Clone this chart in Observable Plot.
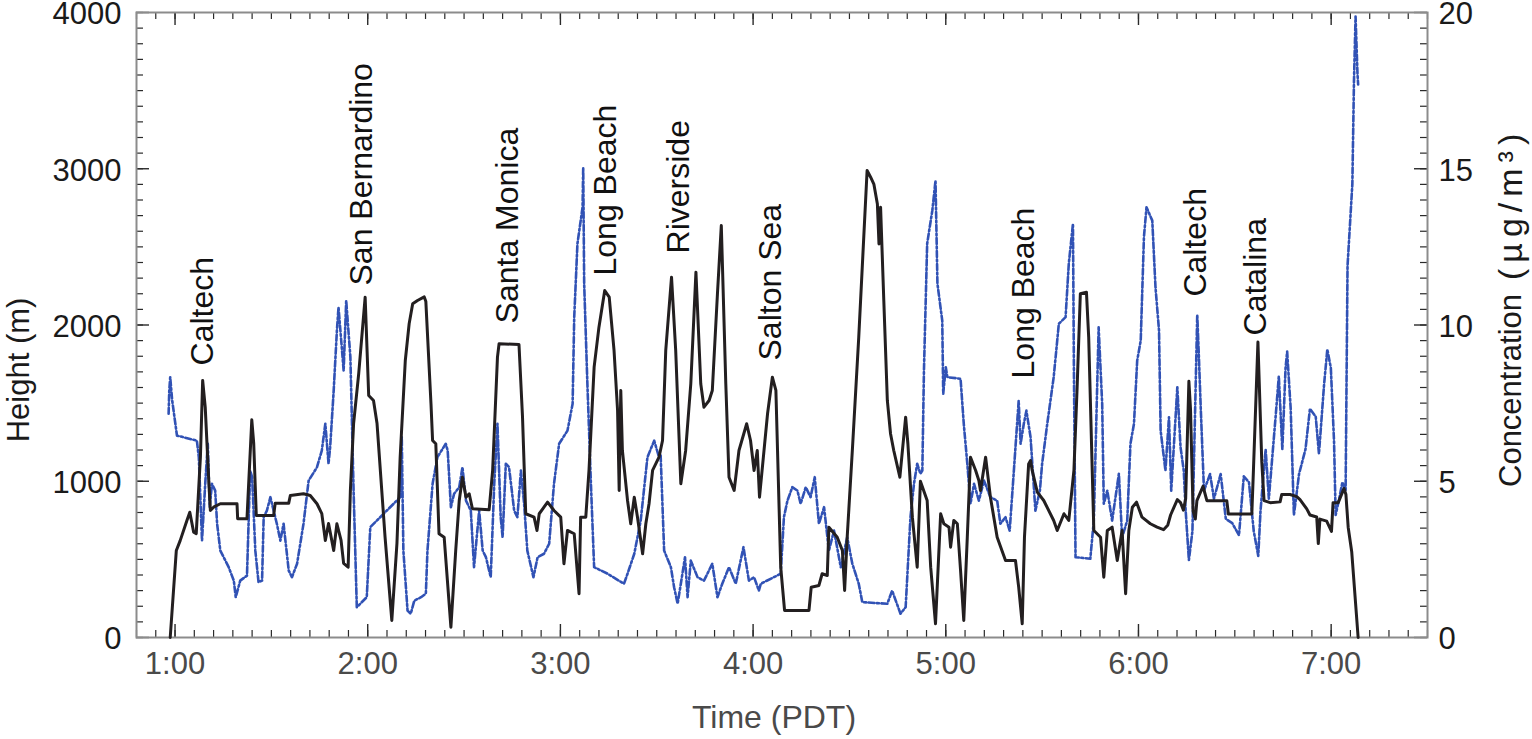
<!DOCTYPE html>
<html><head><meta charset="utf-8">
<script src="https://cdn.jsdelivr.net/npm/d3@7"></script>
<script src="https://cdn.jsdelivr.net/npm/@observablehq/plot@0.6"></script>
<style>html,body{margin:0;padding:0;background:#fff;} #chart svg{display:block}</style>
</head><body><div id="chart"></div>
<script>
// time in minutes after midnight (PDT), height in m
const heightSeries = [[58.5,0],[60.4,557],[61.6,620],[63.7,749],[64.6,802],[65.8,674],[66.6,665],[67.9,1154],[68.6,1645],[69.4,1474],[70.5,1005],[71.0,813],[72.0,834],[74.1,856],[79.3,856],[79.5,760],[82.4,760],[83.9,1393],[84.5,1242],[85.3,781],[90.7,781],[91.2,860],[95.4,860],[95.9,909],[100.0,920],[102.1,909],[104.2,856],[105.7,793],[106.8,621],[107.8,730],[109.4,557],[110.4,728],[111.7,621],[112.5,474],[113.9,450],[114.6,941],[115.6,1369],[117.2,1690],[119.2,2178],[120.3,1549],[121.8,1517],[122.9,1369],[125.4,642],[127.5,109],[129.1,602],[130.1,1154],[131.7,1773],[132.9,2008],[134.0,2136],[135.5,2157],[137.6,2180],[138.1,2150],[139.7,1496],[140.2,1261],[141.2,1240],[142.2,664],[143.8,642],[145.9,66],[147.4,557],[148.5,877],[149.5,1026],[150.6,898],[151.6,920],[152.6,824],[157.8,817],[158.9,1069],[160.4,1794],[160.9,1880],[167.1,1875],[168.2,1410],[169.2,792],[171.8,770],[172.7,685],[173.4,792],[176.0,866],[178.0,813],[180.1,770],[181.1,472],[182.2,685],[184.3,664],[185.8,280],[186.3,770],[187.9,770],[188.9,1069],[190.5,1730],[192.0,1986],[193.8,2221],[195.2,2178],[196.7,1837],[197.8,1453],[198.3,941],[198.8,1581],[199.3,1197],[200.9,877],[201.9,728],[203.0,898],[204.0,770],[205.6,536],[206.6,728],[207.6,856],[208.7,1069],[210.7,1154],[211.8,1261],[212.8,1837],[214.6,2306],[215.9,1837],[217.5,984],[219.0,1197],[220.6,1624],[222.2,2338],[223.7,1624],[224.7,1474],[226.3,1517],[227.3,1581],[228.9,2200],[230.1,2637],[231.5,1624],[232.5,1026],[234.1,941],[235.6,1197],[238.0,1368],[239.2,1261],[240.3,1069],[241.3,1197],[242.0,898],[243.4,1197],[244.5,1432],[246.0,1666],[247.1,1581],[248.6,450],[249.8,173],[257.4,173],[258.1,322],[260.5,333],[261.5,408],[263.1,397],[263.6,706],[266.2,642],[267.8,557],[268.5,301],[269.3,642],[270.9,1197],[272.9,1922],[275.5,2989],[276.6,2946],[277.6,2902],[278.7,2774],[279.2,2519],[279.7,2753],[280.7,2157],[281.8,1517],[282.8,1304],[283.8,1197],[285.7,1026],[287.5,1410],[288.2,1240],[289.6,770],[291.1,450],[292.1,1000],[294.2,877],[295.3,450],[296.8,88],[298.4,792],[299.4,728],[301.0,706],[301.5,578],[302.5,749],[303.6,728],[304.6,429],[305.6,109],[306.7,642],[307.7,1154],[309.3,1069],[310.3,1005],[310.8,941],[312.4,1154],[313.9,898],[316.0,642],[318.6,493],[321.7,493],[322.7,322],[323.8,88],[324.5,642],[325.8,1111],[326.4,1133],[326.9,1069],[328.5,930],[330.5,877],[333.6,749],[334.7,685],[336.8,792],[338.3,749],[339.9,1069],[340.9,1602],[341.9,2200],[343.8,2210],[344.5,1922],[345.6,1069],[346.1,685],[348.2,642],[349.2,386],[350.3,685],[351.8,706],[353.4,493],[354.9,685],[356.0,280],[357.0,685],[358.1,834],[359.4,866],[361.1,770],[363.7,728],[365.8,706],[367.8,690],[369.1,718],[370.0,784],[372.1,883],[373.1,863],[374.0,815],[374.7,889],[375.7,1640],[376.2,1464],[377.0,810],[377.7,758],[378.2,876],[380.1,968],[381.3,876],[387.5,876],[388.0,790],[395.3,790],[395.8,1072],[397.2,1891],[398.4,1124],[399.1,876],[401.0,863],[404.1,868],[404.6,915],[407.2,915],[409.3,902],[410.3,883],[412.4,823],[413.4,784],[415.5,771],[416.0,601],[416.5,758],[418.6,745],[420.1,679],[420.6,863],[422.2,863],[424.0,954],[424.6,915],[425.3,706],[426.4,549],[428.4,0]];

// time in minutes, concentration in µg/m³
const concSeries = [[58.0,7.16],[58.2,7.9],[58.5,8.33],[59.1,7.6],[60.6,6.46],[66.8,6.3],[67.4,5.77],[68.4,3.1],[69.4,4.92],[70.2,6.2],[70.8,4.17],[71.5,4.92],[72.5,4.7],[73.1,3.64],[74.1,2.78],[76.7,2.25],[78.3,1.82],[78.9,1.29],[80.3,1.82],[82.4,1.98],[83.4,5.34],[84.0,5.13],[85.0,2.78],[86.0,1.77],[87.1,1.82],[87.6,3.85],[88.6,4.06],[89.7,4.49],[90.7,4.06],[91.7,3.64],[92.8,3.1],[93.8,3.64],[95.4,2.14],[96.4,1.93],[98.0,2.36],[100.0,3.64],[101.6,5.02],[104.2,5.45],[105.7,5.98],[106.8,6.84],[107.8,5.56],[108.3,6.09],[109.4,7.9],[110.4,9.82],[110.9,10.57],[112.0,9.18],[112.5,8.54],[113.3,10.78],[114.6,8.97],[115.6,4.7],[116.6,0.97],[119.7,1.29],[120.8,3.53],[130.1,4.49],[130.6,6.41],[131.1,2.78],[132.4,0.86],[133.4,0.76],[134.5,1.18],[136.6,1.29],[138.1,1.4],[138.6,2.78],[140.2,4.92],[141.7,5.77],[144.3,6.2],[144.9,5.98],[145.9,4.17],[146.9,4.6],[148.5,4.81],[149.5,5.45],[150.6,4.38],[152.1,4.06],[153.1,2.25],[154.7,4.06],[155.8,2.78],[156.8,2.57],[158.3,1.93],[159.4,4.92],[160.4,6.84],[161.4,3.85],[162.0,3.21],[163.0,5.56],[164.0,5.45],[165.6,4.06],[166.6,3.85],[167.7,5.34],[168.7,4.28],[169.7,2.78],[171.6,1.93],[172.9,2.57],[174.9,2.68],[176.5,3.0],[178.0,4.92],[179.6,6.2],[182.2,6.62],[183.8,7.48],[184.3,10.25],[185.3,12.6],[186.9,13.77],[187.1,15.05],[187.4,11.32],[188.4,8.12],[189.5,4.92],[190.5,2.25],[194.7,2.04],[199.8,1.72],[200.9,2.04],[203.0,2.68],[205.0,3.74],[207.1,5.77],[209.2,6.3],[210.7,5.77],[211.2,5.87],[212.3,2.78],[214.4,2.25],[215.4,1.61],[216.5,1.08],[217.5,1.72],[218.8,2.57],[219.6,1.29],[220.6,2.46],[222.7,1.93],[224.7,1.82],[227.3,2.36],[228.9,1.29],[230.4,1.72],[232.5,2.25],[234.6,1.72],[237.0,2.89],[238.7,1.82],[240.3,1.93],[241.8,1.5],[242.4,1.72],[248.6,2.04],[249.6,3.85],[250.7,4.38],[252.2,4.81],[253.8,4.7],[254.8,4.28],[256.4,4.81],[257.9,4.49],[259.2,5.13],[260.5,3.64],[262.1,4.17],[263.6,2.78],[265.2,3.42],[267.3,2.25],[269.3,3.21],[270.9,2.36],[272.9,1.72],[274.0,1.13],[281.8,1.08],[283.3,1.5],[285.9,0.76],[287.5,0.97],[289.0,3.85],[290.1,4.92],[291.1,5.56],[292.1,5.24],[292.7,5.34],[293.2,8.54],[294.2,12.6],[295.8,13.66],[296.8,14.62],[297.4,11.32],[298.9,10.14],[299.2,7.8],[300.0,8.65],[300.5,8.33],[304.6,8.28],[305.6,6.84],[306.7,5.56],[307.7,4.28],[308.8,4.92],[310.3,4.38],[311.9,5.02],[313.9,4.49],[316.0,4.38],[317.0,3.64],[318.6,3.85],[319.9,3.42],[321.2,5.34],[322.7,7.58],[323.3,6.2],[324.3,6.84],[325.1,7.26],[326.4,6.41],[327.9,4.06],[329.3,4.7],[330.0,5.56],[331.6,6.84],[333.6,8.33],[335.2,10.04],[337.3,10.25],[338.3,11.96],[339.6,13.24],[339.9,8.54],[340.4,2.57],[345.0,2.52],[346.1,3.74],[347.6,9.93],[348.7,7.48],[349.2,4.28],[350.3,4.7],[351.8,3.74],[353.9,5.24],[354.9,3.21],[356.5,3.74],[357.5,6.2],[358.6,6.84],[359.6,8.86],[360.7,9.5],[361.7,12.81],[362.5,13.77],[364.3,13.34],[365.3,11.21],[366.4,9.82],[366.9,6.62],[368.4,5.34],[369.5,7.05],[370.2,4.7],[372.1,8.01],[373.1,6.09],[374.1,5.34],[374.7,4.05],[375.7,2.48],[376.8,3.4],[378.3,10.33],[378.8,9.02],[379.4,7.32],[380.4,4.7],[382.3,5.23],[383.5,4.44],[385.6,5.23],[387.2,3.79],[389.2,3.66],[391.3,3.27],[392.8,5.16],[394.4,4.97],[395.9,3.4],[397.3,2.61],[398.0,4.05],[399.6,6.02],[400.6,4.44],[402.7,7.06],[403.7,8.36],[404.8,6.02],[405.8,8.63],[406.3,9.15],[407.4,7.32],[408.4,3.92],[410.0,5.23],[412.0,6.02],[413.4,7.32],[415.2,7.06],[416.2,5.88],[417.8,8.1],[418.8,9.22],[419.9,8.63],[420.9,6.27],[421.4,3.92],[422.5,4.44],[423.5,4.97],[424.5,4.7],[425.1,11.89],[426.6,14.51],[427.1,17.78],[427.6,19.87],[428.2,18.04],[428.4,17.7]];

const stationNames = ["Caltech","San Bernardino","Santa Monica","Long Beach","Riverside","Salton Sea","Long Beach","Caltech","Catalina"];
const stationTimes = [68.7,118.2,163.6,194.1,216.8,245.5,324.2,377.7,396.4];
const stationHeights = [1741,2253,2010,2317,2458,1773,1658,2182,1933];

const timeTicks = [60,120,180,240,300,360,420];
const heightTicks = [0,1000,2000,3000,4000];
const concPerMeter = 20/4000; // right axis 0–20 spans left axis 0–4000

const W = 1532, H = 739, ML = 136, MR = 105, MT = 12, MB = 102;
const FW = W - ML - MR, FH = H - MT - MB;
const font = "'Liberation Sans', Arial, Helvetica, sans-serif";
const tickColor = "#2a2a2a";
const minorX = d3.range(48, 451, 6);
const minorY = d3.range(0, 4001, 100);

const stations = stationNames.map((name, i) => ({name, t: stationTimes[i], h: stationHeights[i]}));

const chart = Plot.plot({
  width: W, height: H,
  marginLeft: ML, marginRight: MR, marginTop: MT, marginBottom: MB,
  x: {domain: [48, 450]},
  y: {domain: [0, 4000]},
  style: {fontFamily: font, background: "#fff", overflow: "visible"},
  marks: [
    Plot.ruleX(minorX, {x: d => d, insetTop: FH - 7, stroke: tickColor, strokeWidth: 1.2}),
    Plot.ruleX(timeTicks, {x: d => d, insetTop: FH - 13, stroke: tickColor, strokeWidth: 1.4}),
    Plot.ruleX(minorX, {x: d => d, insetBottom: FH - 7, stroke: tickColor, strokeWidth: 1.2}),
    Plot.ruleX(timeTicks, {x: d => d, insetBottom: FH - 13, stroke: tickColor, strokeWidth: 1.4}),
    Plot.ruleY(minorY, {y: d => d, insetRight: FW - 7, stroke: tickColor, strokeWidth: 1.2}),
    Plot.ruleY(heightTicks, {y: d => d, insetRight: FW - 13, stroke: tickColor, strokeWidth: 1.4}),
    Plot.ruleY(minorY, {y: d => d, insetLeft: FW - 7, stroke: tickColor, strokeWidth: 1.2}),
    Plot.ruleY(heightTicks, {y: d => d, insetLeft: FW - 13, stroke: tickColor, strokeWidth: 1.4}),
    Plot.frame({stroke: "#8c8c8c", strokeWidth: 2}),
    Plot.line(concSeries, {x: d => d[0], y: d => d[1] / concPerMeter, stroke: "#3152b5", strokeWidth: 2.6, strokeDasharray: "6,2.5,2,2.5"}),
    Plot.line(heightSeries, {x: d => d[0], y: d => d[1], stroke: "#231f20", strokeWidth: 3, strokeLinejoin: "round"}),
    Plot.text(stations, {x: "t", y: "h", text: "name", rotate: -90, textAnchor: "start", lineAnchor: "middle", fontSize: 32, fill: "#111"}),
    Plot.axisX(timeTicks, {anchor: "bottom", tickSize: 0, tickPadding: 14, tickFormat: m => `${m / 60}:00`, fontSize: 31, fill: "#4a4a4a", label: null}),
    Plot.axisY(heightTicks, {anchor: "left", tickSize: 0, tickPadding: 15, dy: 2, tickFormat: d3.format("d"), fontSize: 31, fill: "#1a1a1a", label: null}),
    Plot.axisY(heightTicks, {anchor: "right", tickSize: 0, tickPadding: 11, dy: 2, tickFormat: d => d3.format("d")(d * concPerMeter), fontSize: 31, fill: "#1a1a1a", label: null}),
    Plot.text(["Height (m)"], {text: d => d, frameAnchor: "left", textAnchor: "middle", lineAnchor: "middle", dx: -117, dy: 45, rotate: -90, fontSize: 31, fill: "#1a1a1a"}),
    Plot.text(["Concentration"], {text: d => d, frameAnchor: "right", textAnchor: "start", lineAnchor: "middle", dx: 84, dy: 162, rotate: -90, fontSize: 31, fill: "#1a1a1a"}),
    Plot.text(["(µg/m³)"], {text: d => d, frameAnchor: "right", textAnchor: "start", lineAnchor: "middle", dx: 84, dy: -45, rotate: -90, fontSize: 34, fill: "#1a1a1a"}),
    Plot.text(["Time (PDT)"], {text: d => d, frameAnchor: "bottom", textAnchor: "middle", lineAnchor: "middle", dx: -8, dy: 80, fontSize: 32, fill: "#4a4a4a"})
  ]
});
document.getElementById("chart").appendChild(chart);
// widen the unit label like the reference typesetting
d3.select(chart).selectAll("text").filter(function() { return this.textContent === "(µg/m³)"; }).style("letter-spacing", "6px");
</script></body></html>
